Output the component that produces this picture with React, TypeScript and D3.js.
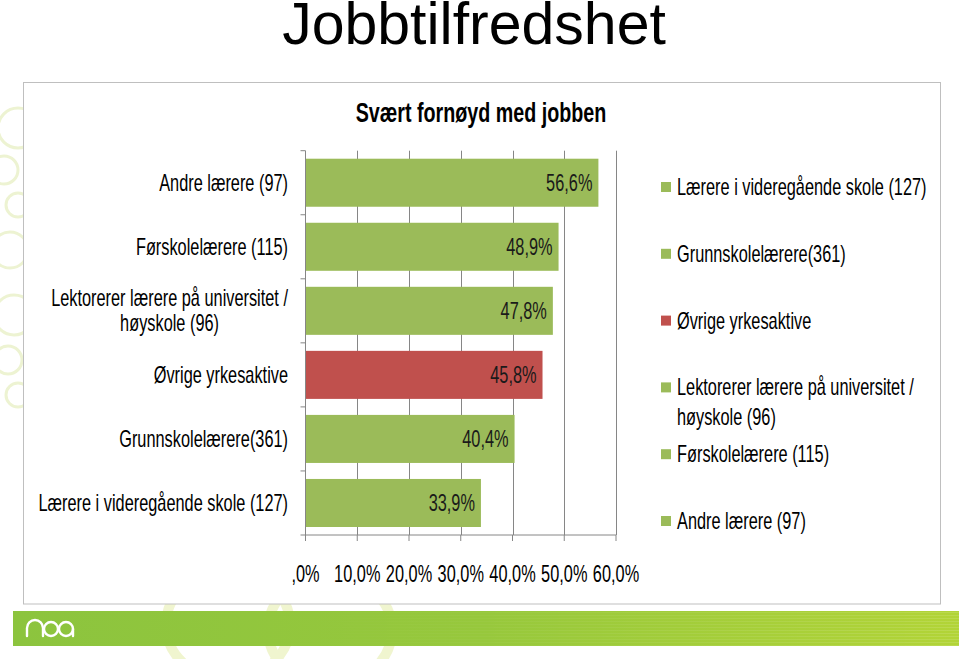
import React from "react";
import * as d3 from "d3";

const title = "Jobbtilfredshet";
const subtitle = "Svært fornøyd med jobben";
const categories: string[][] = [
  ["Andre lærere (97)"],
  ["Førskolelærere (115)"],
  ["Lektorerer lærere på universitet /", "høyskole (96)"],
  ["Øvrige yrkesaktive"],
  ["Grunnskolelærere(361)"],
  ["Lærere i videregående skole (127)"],
];
const values = [0.566, 0.489, 0.478, 0.458, 0.404, 0.339];
const valueLabels = ["56,6%", "48,9%", "47,8%", "45,8%", "40,4%", "33,9%"];
const highlight = [false, false, false, true, false, false];
const xTicks = [0, 0.1, 0.2, 0.3, 0.4, 0.5, 0.6];
const xTickLabels = [",0%", "10,0%", "20,0%", "30,0%", "40,0%", "50,0%", "60,0%"];
const legendOrder = [5, 4, 3, 2, 1, 0];

const GREEN = "#9bbb59";
const RED = "#c0504d";
const SANS = "'Liberation Sans', Arial, sans-serif";
const NARROW_SCALE = 0.71;
const FS = 23;

function measure(text: string, font: string): number {
  if (typeof document === "undefined") return text.length * 8;
  const c = document.createElement("canvas");
  const ctx = c.getContext("2d");
  if (!ctx) return text.length * 8;
  ctx.font = font;
  return ctx.measureText(text).width;
}

type NProps = {
  x: number;
  y: number;
  anchor?: "start" | "middle" | "end";
  size?: number;
  bold?: boolean;
  fill?: string;
  dy?: string;
  sx?: number;
  children: React.ReactNode;
};

function NText({ x, y, anchor = "start", size = FS, bold = false, fill = "#000", dy, sx = NARROW_SCALE, children }: NProps) {
  return (
    <text
      transform={`translate(${x},${y}) scale(${sx},1)`}
      textAnchor={anchor}
      fontFamily={SANS}
      fontSize={size}
      fontWeight={bold ? "bold" : "normal"}
      fill={fill}
      dy={dy}
    >
      {children}
    </text>
  );
}

export default function App() {
  const W = 959;
  const H = 659;
  const x = d3.scaleLinear().domain([0, 0.6]).range([305.5, 616]);
  const y = d3
    .scaleBand<number>()
    .domain(d3.range(categories.length))
    .range([150.7, 535])
    .paddingInner(0.25)
    .paddingOuter(0.125);
  const step = y.step();
  const boundaries = d3.range(categories.length + 1).map((i) => 150.7 + i * step);
  const legendY = d3
    .scalePoint<number>()
    .domain(legendOrder)
    .range([187, 521]);
  const labelFont = `${FS}px ${SANS}`;

  return (
    <svg
      width={W}
      height={H}
      style={{ position: "absolute", left: 0, top: 0, background: "#fff" }}
    >
      <defs>
        <linearGradient id="band" x1="0" x2="1" y1="0" y2="0">
          <stop offset="0" stopColor="#8cc43e" />
          <stop offset="0.5" stopColor="#97c83c" />
          <stop offset="1" stopColor="#b2d437" />
        </linearGradient>
        <pattern id="stripes" width="4" height="3" patternUnits="userSpaceOnUse">
          <rect width="4" height="1" fill="#ffffff" opacity="0.12" />
        </pattern>
        <linearGradient id="fade" x1="0" x2="1">
          <stop offset="0.3" stopColor="#fff" stopOpacity="0" />
          <stop offset="1" stopColor="#fff" stopOpacity="1" />
        </linearGradient>
        <mask id="fadeMask">
          <rect x="0" y="0" width={W} height={H} fill="url(#fade)" />
        </mask>
      </defs>

      {/* decorative circles */}
      <g fill="none" stroke="#edf3d2" strokeWidth={3}>
        <circle cx={18} cy={128} r={20} />
        <circle cx={4} cy={170} r={14} />
        <circle cx={18} cy={205} r={12} />
        <circle cx={10} cy={250} r={18} />
        <circle cx={14} cy={315} r={20} />
        <circle cx={8} cy={360} r={14} />
        <circle cx={18} cy={395} r={12} />
      </g>
      <g fill="none" stroke="#f0f5cf" strokeWidth={10}>
        <ellipse cx={228} cy={625} rx={62} ry={55} />
        <ellipse cx={330} cy={630} rx={62} ry={55} />
      </g>

      <text x={474} y={44} textAnchor="middle" fontFamily={SANS} fontSize={59} fill="#000">
        {title}
      </text>

      {/* chart box */}
      <rect x={23.5} y={82.5} width={917} height={521.5} fill="#fff" stroke="#bfbfbf" strokeWidth={1} />

      <NText x={481} y={121.5} anchor="middle" size={27} bold sx={0.73}>
        {subtitle}
      </NText>

      {/* gridlines */}
      <g stroke="#868686" strokeWidth={1}>
        {xTicks.slice(1).map((t) => (
          <line key={t} x1={Math.round(x(t)) + 0.5} x2={Math.round(x(t)) + 0.5} y1={150.7} y2={535} />
        ))}
      </g>

      {/* bars */}
      {values.map((v, i) => (
        <rect
          key={i}
          x={x(0)}
          y={y(i)}
          width={x(v) - x(0)}
          height={y.bandwidth()}
          fill={highlight[i] ? RED : GREEN}
        />
      ))}

      {/* value labels */}
      {values.map((v, i) => (
        <NText
          key={i}
          x={x(v) - 6}
          y={(y(i) as number) + y.bandwidth() / 2}
          dy="0.35em"
          anchor="end"
          fill="#1a1a1a"
        >
          {valueLabels[i]}
        </NText>
      ))}

      {/* axes */}
      <g stroke="#868686" strokeWidth={1}>
        <line x1={x(0)} x2={x(0)} y1={150.7} y2={535} />
        {boundaries.map((b, i) => (
          <line key={i} x1={x(0) - 5} x2={x(0)} y1={b} y2={b} />
        ))}
        <line x1={x(0)} x2={x(0.6)} y1={535} y2={535} />
        {xTicks.map((t) => (
          <line key={t} x1={x(t)} x2={x(t)} y1={535} y2={541} />
        ))}
      </g>

      {/* x tick labels */}
      {xTicks.map((t, i) => (
        <NText key={t} x={x(t)} y={582} anchor="middle">
          {xTickLabels[i]}
        </NText>
      ))}

      {/* category labels */}
      {categories.map((lines, i) => {
        const cy = (y(i) as number) + y.bandwidth() / 2;
        const lh = 25;
        const widths = lines.map((l) => measure(l, labelFont) * NARROW_SCALE);
        const maxW = Math.max(...widths);
        const right = 288;
        const center = right - maxW / 2;
        return (
          <g key={i}>
            {lines.map((l, j) => (
              <NText
                key={j}
                x={lines.length > 1 ? center : right}
                y={cy + (j - (lines.length - 1) / 2) * lh}
                dy="0.35em"
                anchor={lines.length > 1 ? "middle" : "end"}
              >
                {l}
              </NText>
            ))}
          </g>
        );
      })}

      {/* legend */}
      {legendOrder.map((ci) => {
        const ly = legendY(ci) as number;
        return (
          <g key={ci}>
            <rect x={661} y={ly - 5} width={10} height={10} fill={highlight[ci] ? RED : GREEN} />
            {categories[ci].map((l, j) => (
              <NText key={j} x={677} y={ly + j * 30} dy="0.35em">
                {l}
              </NText>
            ))}
          </g>
        );
      })}

      {/* bottom band */}
      <rect x={13} y={611} width={W - 13} height={35} fill="url(#band)" />
      <rect x={13} y={611} width={W - 13} height={35} fill="url(#stripes)" mask="url(#fadeMask)" />
      {/* noa logo */}
      <g fill="none" stroke="#fff" strokeWidth={2.4} strokeLinecap="round">
        <path d="M27 636 L27 628 A8 8 0 0 1 43 628 L43 636" />
        <circle cx={51} cy={629} r={7} />
        <circle cx={66} cy={629} r={7} />
        <line x1={73} y1={629} x2={73} y2={636} />
      </g>
    </svg>
  );
}
